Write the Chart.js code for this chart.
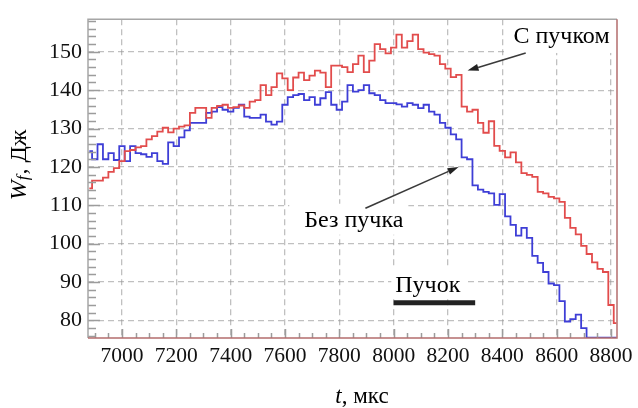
<!DOCTYPE html>
<html><head><meta charset="utf-8">
<script src="https://cdn.jsdelivr.net/npm/chart.js@4"></script>
<style>html,body{margin:0;padding:0;background:#fff;}canvas{display:block;}</style>
</head><body>
<canvas id="c" width="638" height="408"></canvas>
<script>
// time, µs (20 µs bins)
const times = [6880,6900,6920,6940,6960,6980,
  7000,7020,7040,7060,7080,7100,7120,7140,7160,7180,
  7200,7220,7240,7260,7280,7300,7320,7340,7360,7380,
  7400,7420,7440,7460,7480,7500,7520,7540,7560,7580,
  7600,7620,7640,7660,7680,7700,7720,7740,7760,7780,
  7800,7820,7840,7860,7880,7900,7920,7940,7960,7980,
  8000,8020,8040,8060,8080,8100,8120,8140,8160,8180,
  8200,8220,8240,8260,8280,8300,8320,8340,8360,8380,
  8400,8420,8440,8460,8480,8500,8520,8540,8560,8580,
  8600,8620,8640,8660,8680,8700,8720,8740,8760,8780,
  8800,8820];
// W_f with beam (red), J
const withBeam = [114.4,116.4,116.4,117.2,118.7,119.7,
  121.5,124.1,124.4,125.1,125.4,127.2,128,129.2,130.2,129,
  130,130.5,130.8,134.1,135.4,135.4,132.8,135.4,135.9,136.2,
  135.4,135.6,136,135.4,137,137.4,141.3,138.7,140.8,144.4,
  143.1,140,143.3,144.6,142.6,143.8,145.1,144.6,140.8,146.4,
  146.4,146,144.7,146.8,149,144.7,147.7,152,150.7,149.6,
  151.1,154.5,151.1,152.8,154.5,150.7,149.8,149.4,149,146.8,
  145.6,143.4,144,135.7,134.4,134.9,131.5,128.9,131.9,125.5,
  124.2,122.5,123.8,121.2,118.4,117.9,117.4,113.5,113.1,112.2,
  111.8,110.9,106.7,104.1,102.4,99.4,97.3,95.1,93.4,92.6,
  84,79.3];
// W_f without beam (blue), J
const withoutBeam = [124.1,122,125.9,122,123.6,121.8,
  125.4,121.5,125.4,123.6,123.3,122.6,123.6,121.5,120.8,126.4,
  125.4,127.7,129.5,131.5,131.5,131.5,134.1,134.4,135.6,134.9,
  134.4,135.4,136.2,133.1,132.8,132.8,133.6,131.8,131,131.8,
  136.2,138.2,138.7,139,137.4,138.2,136.2,137.9,139.5,136.2,
  134.9,137,141.3,139.6,140,141.3,139.2,138.7,137.4,136.6,
  136.6,136.3,135.7,136.6,136.2,135.3,136.2,134.4,133.6,131.5,
  130.2,128.5,127.2,122.5,122,115.2,114.1,113.5,113.1,110.1,
  112.9,107.1,104.9,102.1,104.1,101.5,96.8,95,92.6,89.6,
  89.2,85,79.7,80.3,81.5,78,75.5,75.5,75.5,75.5,
  75.5,75.5];
// beam pulse marker
const beamTimes = [8000, 8300];
const beamLevel = [84.6, 84.6];
// axis ticks
const xTicks = [7000,7200,7400,7600,7800,8000,8200,8400,8600,8800];
const yTicks = [80,90,100,110,120,130,140,150];
// texts
const labelWith = 'С пучком';
const labelWithout = 'Без пучка';
const labelBeam = 'Пучок';

const SERIF = "'Liberation Serif', serif";

const decor = {
  id: 'decor',
  afterDatasetsDraw(chart) {
    const {ctx, chartArea: a, scales: {x, y}} = chart;
    ctx.save();
    ctx.font = '24px ' + SERIF;
    ctx.textBaseline = 'alphabetic';
    function box(text, t, v, pl, pr, up, down, toRight) {
      const px = x.getPixelForValue(t), py = y.getPixelForValue(v);
      const w = ctx.measureText(text).width;
      const rx = px - pl, rw = toRight ? a.right - rx : w + pl + pr;
      ctx.fillStyle = '#fff';
      ctx.fillRect(rx, py - up, rw, up + down);
      ctx.fillStyle = '#000';
      ctx.fillText(text, px, py);
    }
    function arrow(t0, v0, t1, v1) {
      const x0 = x.getPixelForValue(t0), y0 = y.getPixelForValue(v0);
      const x1 = x.getPixelForValue(t1), y1 = y.getPixelForValue(v1);
      const ang = Math.atan2(y1 - y0, x1 - x0), L = 11, W = 3.5;
      const bx = x1 - L * Math.cos(ang), by = y1 - L * Math.sin(ang);
      ctx.strokeStyle = '#3a3a3a'; ctx.lineWidth = 1.6;
      ctx.beginPath(); ctx.moveTo(x0, y0); ctx.lineTo(bx, by); ctx.stroke();
      ctx.fillStyle = '#222';
      ctx.beginPath();
      ctx.moveTo(x1, y1);
      ctx.lineTo(bx + W * Math.sin(ang), by - W * Math.cos(ang));
      ctx.lineTo(bx - W * Math.sin(ang), by + W * Math.cos(ang));
      ctx.closePath(); ctx.fill();
    }
    box(labelWith, 8441, 152.3, 7, 0, 25, 10, true);
    box(labelWithout, 7671, 104.4, 15, 5, 23, 8, false);
    box(labelBeam, 8006, 87.4, 4, 4, 23, 7, false);
    arrow(8486, 149.7, 8272, 145.1);
    arrow(7896, 109.2, 8239, 120);
    ctx.restore();
  },
  afterDraw(chart) {
    const {ctx, chartArea: a, scales: {x, y}} = chart;
    ctx.save();
    // inward tick marks
    ctx.strokeStyle = '#9c9c9c'; ctx.lineWidth = 1.5;
    ctx.beginPath();
    for (let v = 76; v <= 158; v += 2) {
      const py = Math.round(y.getPixelForValue(v)) + 0.5;
      const len = v % 10 === 0 ? 12 : 8;
      ctx.moveTo(a.left, py); ctx.lineTo(a.left + len, py);
    }
    for (let t = 6900; t <= 8800; t += 50) {
      const px = Math.round(x.getPixelForValue(t)) + 0.5;
      const len = t % 200 === 0 ? 9 : 5;
      ctx.moveTo(px, a.bottom); ctx.lineTo(px, a.bottom - len);
    }
    ctx.stroke();
    // frame
    ctx.lineWidth = 1.5;
    ctx.strokeStyle = '#a6a6a6';
    ctx.beginPath();
    ctx.moveTo(a.left, a.bottom); ctx.lineTo(a.left, a.top); ctx.lineTo(a.right, a.top);
    ctx.stroke();
    ctx.strokeStyle = '#b46e6e';
    ctx.beginPath();
    ctx.moveTo(a.left, a.bottom); ctx.lineTo(a.right, a.bottom); ctx.lineTo(a.right, a.top);
    ctx.stroke();
    // axis titles
    ctx.fillStyle = '#000';
    ctx.textBaseline = 'alphabetic';
    const fIt = 'italic 24px ' + SERIF, fSub = 'italic 17px ' + SERIF, fReg = '24px ' + SERIF;
    // y title
    ctx.save();
    ctx.translate(26, 165);
    ctx.rotate(-Math.PI / 2);
    ctx.font = fIt; const wW = ctx.measureText('W').width;
    ctx.font = fSub; const wf = ctx.measureText('f').width + 1;
    ctx.font = fReg; const wr = ctx.measureText(', Дж').width;
    let sx = -(wW + wf + wr) / 2;
    ctx.font = fIt; ctx.fillText('W', sx, 0); sx += wW;
    ctx.font = fSub; ctx.fillText('f', sx, 2); sx += wf;
    ctx.font = fReg; ctx.fillText(', Дж', sx, 0);
    ctx.restore();
    // x title
    ctx.font = 'italic 23px ' + SERIF; const wt = ctx.measureText('t').width;
    ctx.font = '23px ' + SERIF; const wm = ctx.measureText(', мкс').width;
    let tx = 362 - (wt + wm) / 2;
    ctx.font = 'italic 23px ' + SERIF; ctx.fillText('t', tx, 403);
    ctx.font = '23px ' + SERIF; ctx.fillText(', мкс', tx + wt, 403);
    ctx.restore();
  }
};

new Chart(document.getElementById('c'), {
  type: 'line',
  data: {
    datasets: [
      {label: labelWith, data: times.map((t, i) => ({x: t, y: withBeam[i]})),
       borderColor: 'rgb(226,76,76)', borderWidth: 1.8, pointRadius: 0, stepped: 'middle', fill: false},
      {label: labelWithout, data: times.map((t, i) => ({x: t, y: withoutBeam[i]})),
       borderColor: 'rgb(62,62,214)', borderWidth: 1.8, pointRadius: 0, stepped: 'middle', fill: false},
      {label: labelBeam, data: beamTimes.map((t, i) => ({x: t, y: beamLevel[i]})),
       borderColor: '#222', borderWidth: 5, pointRadius: 0, fill: false, borderCapStyle: 'butt'}
    ]
  },
  options: {
    responsive: false, animation: false, devicePixelRatio: 1,
    layout: {padding: {left: 0, top: 13, right: 21, bottom: 0}},
    plugins: {legend: {display: false}, tooltip: {enabled: false}},
    scales: {
      x: {
        type: 'linear', min: 6875, max: 8822,
        afterBuildTicks: s => { s.ticks = xTicks.map(v => ({value: v})); },
        afterFit: s => { s.height = 70; },
        ticks: {font: {family: SERIF, size: 21.5}, color: '#111', padding: 5, maxRotation: 0,
                callback: v => String(v)},
        grid: {color: 'rgba(150,150,150,0.6)', lineWidth: 1.3, drawTicks: false},
        border: {display: false, dash: [6, 4]}
      },
      y: {
        type: 'linear', min: 75.4, max: 158.5,
        afterBuildTicks: s => { s.ticks = yTicks.map(v => ({value: v})); },
        afterFit: s => { s.width = 88; },
        ticks: {font: {family: SERIF, size: 22}, color: '#111', padding: 6,
                callback: v => String(v)},
        grid: {color: 'rgba(150,150,150,0.6)', lineWidth: 1.3, drawTicks: false},
        border: {display: false, dash: [6, 4]}
      }
    }
  },
  plugins: [decor]
});
</script>
</body></html>
